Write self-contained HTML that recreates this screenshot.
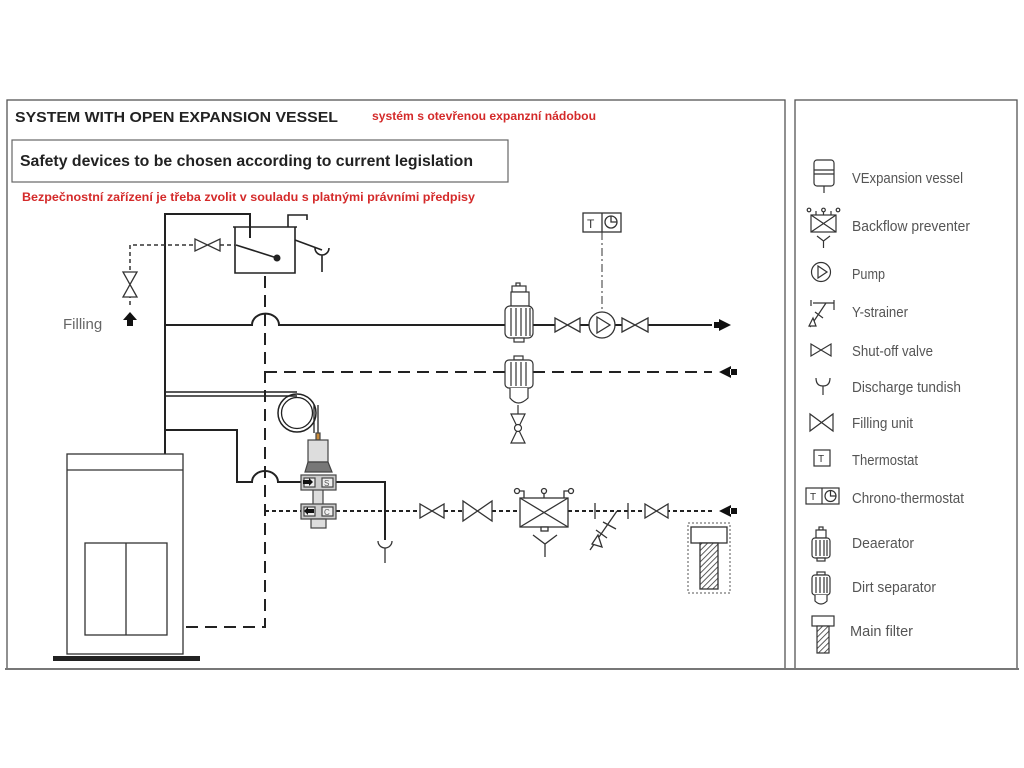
<!DOCTYPE html>
<html><head><meta charset="utf-8"><style>
html,body{margin:0;padding:0;background:#fff;}
svg{display:block;}
text{font-family:"Liberation Sans",sans-serif;}
</style></head><body>
<svg width="1024" height="768" viewBox="0 0 1024 768" xmlns="http://www.w3.org/2000/svg">
<defs>
<pattern id="hatch" width="4" height="4" patternUnits="userSpaceOnUse" patternTransform="rotate(45)">
<rect width="4" height="4" fill="#fff"/><line x1="0" y1="0" x2="0" y2="4" stroke="#333" stroke-width="1.6"/></pattern>
</defs>
<rect x="7" y="100" width="778" height="569" fill="none" stroke="#555" stroke-width="1.3"/>
<rect x="795" y="100" width="222" height="569" fill="none" stroke="#555" stroke-width="1.3"/>
<line x1="5" y1="669" x2="1019" y2="669" stroke="#777" stroke-width="2"/>

<text x="15" y="122" font-size="15" font-weight="bold" fill="#222" textLength="323" lengthAdjust="spacingAndGlyphs">SYSTEM WITH OPEN EXPANSION VESSEL</text>
<text x="372" y="120" font-size="11.5" font-weight="bold" fill="#d42a2a" textLength="224" lengthAdjust="spacingAndGlyphs">systém s otevřenou expanzní nádobou</text>
<rect x="12" y="140" width="496" height="42" fill="none" stroke="#666" stroke-width="1.2"/>
<text x="20" y="166" font-size="15.5" font-weight="bold" fill="#222" textLength="453" lengthAdjust="spacingAndGlyphs">Safety devices to be chosen according to current legislation</text>
<text x="22" y="201" font-size="11.5" font-weight="bold" fill="#d42a2a" textLength="453" lengthAdjust="spacingAndGlyphs">Bezpečnostní zařízení je třeba zvolit v souladu s platnými právními předpisy</text>

<g fill="none" stroke="#222" stroke-width="2">
<path d="M165 454 V214 H250 V238"/>
<path d="M165 325 H252 A13 11 0 0 1 279 325 H505"/>
<path d="M533 325 H555 M580 325 H589 M615 325 H622 M648 325 H712"/>
<path d="M165 392 H297" stroke-width="1.5"/>
<path d="M165 396 H297" stroke-width="1.5"/>
<circle cx="297" cy="413" r="19" stroke-width="1.5"/>
<circle cx="297" cy="413" r="15.5" stroke-width="1.3"/>
<path d="M314 405 V433 M318 405 V433" stroke-width="1.3"/>
<path d="M165 430 H237 V482 H252 A13 11 0 0 1 278 482 H301"/>
<path d="M336 482 H385 V540"/>
</g>
<g fill="none" stroke="#222" stroke-width="1.6">
<path d="M233 227 H297 M235 227 V273 H295 V227"/>
<path d="M288 227 V215 H307 V220"/>
<path d="M236 245 L277 258"/>
<path d="M295 240 L322 250"/>
<path d="M315 248 A7 7 0 0 0 329 248 M322 255 V272"/>
</g>
<circle cx="277" cy="258" r="3.5" fill="#222"/>
<g fill="none" stroke="#333" stroke-width="1.5" stroke-dasharray="4,3">
<path d="M130 305 V245 H195 M220 245 H235"/>
</g>
<g fill="#fff" stroke="#333" stroke-width="1.3">
<path d="M195 239 V251 L220 239 V251 Z"/>
<path d="M123 272 H137 L123 297 H137 Z"/>
</g>
<path d="M130 312 L137 320 H133 V326 H127 V320 H123 Z" fill="#111"/>
<text x="63" y="329" font-size="15" fill="#666">Filling</text>

<g fill="none" stroke="#222" stroke-width="2" stroke-dasharray="12,7">
<path d="M265 276 V627 H185"/>
<path d="M265 372 H505"/>
<path d="M533 372 H712"/>
</g>
<g fill="none" stroke="#222" stroke-width="2" stroke-dasharray="4,3">
<path d="M265 511 H301"/>
<path d="M336 511 H420 M444 511 H463 M492 511 H520 M568 511 H712"/>
</g>
<path d="M719 319 L731 325 L719 331 Z M714 322 H720 V328 H714 Z" fill="#111"/>
<path d="M731 366 L719 372 L731 378 Z M730 369 H737 V375 H730 Z" fill="#111"/>
<path d="M731 505 L719 511 L731 517 Z M730 508 H737 V514 H730 Z" fill="#111"/>

<g fill="#fff" stroke="#333" stroke-width="1.2">
<rect x="516" y="283" width="4" height="3"/>
<rect x="512" y="286" width="14" height="6"/>
<rect x="511" y="292" width="18" height="14"/>
<rect x="505" y="306" width="28" height="32" rx="5"/>
<rect x="514" y="338" width="10" height="4"/>
<path d="M511 308 V336 M516 308 V336 M521 308 V336 M526 308 V336 M530 308 V336" fill="none"/>
</g>
<g fill="#fff" stroke="#333" stroke-width="1.2">
<rect x="514" y="356" width="9" height="4"/>
<rect x="505" y="360" width="28" height="28" rx="4"/>
<path d="M511 362 V386 M516 362 V386 M521 362 V386 M526 362 V386" fill="none"/>
<path d="M510 388 V398 Q518 408 528 398 V388"/>
<path d="M518 405 V414" fill="none"/>
<path d="M511 414 H525 L511 443 H525 Z"/>
<circle cx="518" cy="428" r="3.5"/>
</g>
<g fill="#fff" stroke="#333" stroke-width="1.3">
<path d="M555 318 V332 L580 318 V332 Z"/>
<path d="M622 318 V332 L648 318 V332 Z"/>
<circle cx="602" cy="325" r="13"/>
<path d="M597 317 L610 325 L597 333 Z" fill="none"/>
<rect x="583" y="213" width="38" height="19"/>
<line x1="602" y1="213" x2="602" y2="232"/>
<circle cx="611" cy="222" r="6" fill="none"/>
<path d="M611 216 V222 H617" fill="none"/>
</g>
<text x="587" y="228" font-size="12" fill="#333">T</text>
<path d="M602 232 V312" stroke="#333" stroke-width="1" stroke-dasharray="8,3,2,3" fill="none"/>

<g fill="#fff" stroke="#333" stroke-width="1.3">
<path d="M420 504 V518 L444 504 V518 Z"/>
<path d="M463 501 V521 L492 501 V521 Z"/>
<rect x="520" y="498" width="48" height="29"/>
<path d="M520 498 L568 527 M568 498 L520 527" fill="none"/>
<rect x="541" y="527" width="7" height="4"/>
<path d="M544 498 V492" fill="none"/>
<circle cx="517" cy="491" r="2.5"/><circle cx="544" cy="491" r="2.5"/><circle cx="571" cy="491" r="2.5"/>
<path d="M524 498 V491 H519 M564 498 V491 H569" fill="none"/>
<path d="M533 535 L545 544 L557 535 M545 544 V557" fill="none"/>
<path d="M595 503 V519 M628 503 V519 M617 511 L590 550 M603 522 L616 529" fill="none"/>
<path d="M598 535 L592 544 L602 547 Z M596 530 L607 538" />
<path d="M645 504 V518 L668 504 V518 Z"/>
<path d="M378 541 A7 7 0 0 0 392 541" fill="none"/>
<line x1="385" y1="548" x2="385" y2="563"/>
</g>
<rect x="688" y="523" width="42" height="70" fill="none" stroke="#555" stroke-width="1" stroke-dasharray="2,2"/>
<rect x="691" y="527" width="36" height="16" fill="#fff" stroke="#333" stroke-width="1.3"/>
<rect x="700" y="543" width="18" height="46" fill="url(#hatch)" stroke="#333" stroke-width="1.3"/>

<g stroke="#444" stroke-width="1.2">
<rect x="316" y="433" width="4" height="7" fill="#c88a3a"/>
<rect x="308" y="440" width="20" height="22" fill="#ddd"/>
<path d="M308 462 L305 472 H332 L328 462 Z" fill="#777"/>
<rect x="313" y="488" width="10" height="20" fill="#ddd"/>
<rect x="301" y="475" width="35" height="15" fill="#ccc"/>
<rect x="301" y="504" width="35" height="15" fill="#ccc"/>
<rect x="311" y="519" width="15" height="9" fill="#ddd"/>
<rect x="304" y="478" width="11" height="9" fill="#eee"/>
<rect x="322" y="478" width="11" height="9" fill="#eee"/>
<rect x="304" y="507" width="11" height="9" fill="#eee"/>
<rect x="322" y="507" width="11" height="9" fill="#eee"/>
</g>
<path d="M303 480 H309 V478 L313 482 L309 486 V484 H303 Z" fill="#111"/>
<path d="M314 509 H308 V507 L304 511 L308 515 V513 H314 Z" fill="#111"/>
<text x="324" y="486" font-size="8" fill="#555">S</text>
<text x="324" y="515" font-size="8" fill="#555">C</text>

<g fill="#fff" stroke="#333" stroke-width="1.3">
<rect x="67" y="454" width="116" height="200"/>
<line x1="67" y1="470" x2="183" y2="470"/>
<rect x="85" y="543" width="82" height="92"/>
<line x1="126" y1="543" x2="126" y2="635"/>
</g>
<rect x="53" y="656" width="147" height="5" fill="#222"/>

<g fill="#fff" stroke="#333" stroke-width="1.2">
<rect x="814" y="160" width="20" height="26" rx="3"/>
<path d="M814 170 H834 M814 174 H834 M824 186 V193" fill="none"/>
<rect x="811" y="215" width="25" height="17"/>
<path d="M811 215 L836 232 M836 215 L811 232 M816 215 V211 M823.5 215 V211 M831 215 V211" fill="none"/>
<circle cx="809" cy="210" r="1.8"/><circle cx="823.5" cy="210" r="1.8"/><circle cx="838" cy="210" r="1.8"/>
<path d="M817 236 L823.5 241 L830 236 M823.5 241 V248" fill="none"/>
<circle cx="821" cy="272" r="9.5"/>
<path d="M818 266 L827 272 L818 278 Z" fill="none"/>
<path d="M811 300 V306 M834 300 V310 M813 303 H834 M826 303 L810 327 M815 312 L823 318" fill="none"/>
<path d="M813 318 L809 326 L816 326 Z"/>
<path d="M811 344 V356 L831 344 V356 Z"/>
<path d="M816 378 Q816 386 823 386 Q830 386 830 378 M823 386 V395" fill="none"/>
<path d="M810 414 V431 L833 414 V431 Z"/>
<rect x="814" y="450" width="16" height="16"/>
<rect x="806" y="488" width="33" height="16"/>
<line x1="822" y1="488" x2="822" y2="504"/>
<circle cx="830.5" cy="496" r="5.5" fill="none"/>
<path d="M830.5 490.5 V496 H836" fill="none"/>
<rect x="819" y="527" width="4" height="3"/>
<rect x="816" y="530" width="10" height="8"/>
<rect x="812" y="538" width="18" height="20" rx="3"/>
<path d="M816 540 V556 M820 540 V556 M824 540 V556 M827 540 V556" fill="none"/>
<rect x="817" y="558" width="8" height="3"/>
<rect x="817" y="572" width="8" height="3"/>
<rect x="812" y="575" width="18" height="20" rx="3"/>
<path d="M816 577 V593 M820 577 V593 M824 577 V593 M827 577 V593" fill="none"/>
<path d="M815 595 V601 Q821 607 827 601 V595"/>
<rect x="812" y="616" width="22" height="10"/>
<rect x="817" y="626" width="12" height="27" fill="url(#hatch)"/>
</g>
<text x="818" y="462" font-size="10" fill="#333">T</text>
<text x="810" y="500" font-size="10" fill="#333">T</text>
<g font-size="14.5" fill="#555">
<text x="852" y="183" textLength="111" lengthAdjust="spacingAndGlyphs">VExpansion vessel</text>
<text x="852" y="231" textLength="118" lengthAdjust="spacingAndGlyphs">Backflow preventer</text>
<text x="852" y="279" textLength="33" lengthAdjust="spacingAndGlyphs">Pump</text>
<text x="852" y="317" textLength="56" lengthAdjust="spacingAndGlyphs">Y-strainer</text>
<text x="852" y="356" textLength="81" lengthAdjust="spacingAndGlyphs">Shut-off valve</text>
<text x="852" y="392" textLength="109" lengthAdjust="spacingAndGlyphs">Discharge tundish</text>
<text x="852" y="428" textLength="61" lengthAdjust="spacingAndGlyphs">Filling unit</text>
<text x="852" y="465" textLength="66" lengthAdjust="spacingAndGlyphs">Thermostat</text>
<text x="852" y="503" textLength="112" lengthAdjust="spacingAndGlyphs">Chrono-thermostat</text>
<text x="852" y="548" textLength="62" lengthAdjust="spacingAndGlyphs">Deaerator</text>
<text x="852" y="592" textLength="84" lengthAdjust="spacingAndGlyphs">Dirt separator</text>
<text x="850" y="636" textLength="63" lengthAdjust="spacingAndGlyphs">Main filter</text>
</g>
</svg>
</body></html>
